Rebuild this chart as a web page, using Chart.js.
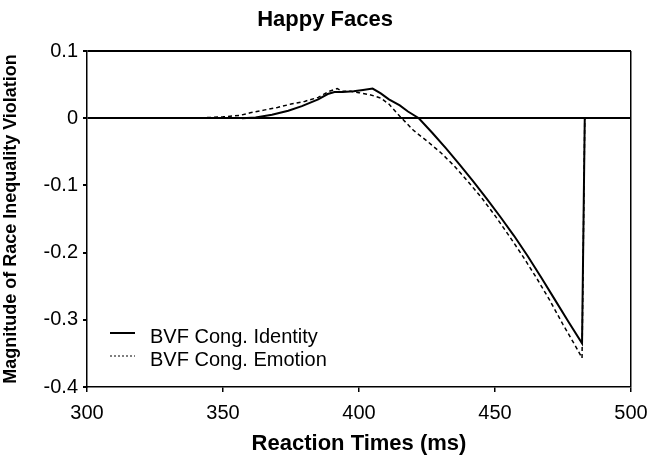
<!DOCTYPE html>
<html>
<head>
<meta charset="utf-8">
<title>Happy Faces</title>
<script src="https://cdn.jsdelivr.net/npm/chart.js@4.4.1/dist/chart.umd.min.js"></script>
<style>
  html, body { margin: 0; padding: 0; background: #fff; }
  #wrap { width: 650px; height: 458px; }
</style>
</head>
<body>
<div id="wrap"><canvas id="chart" width="650" height="458"></canvas></div>
<script>
// dados (tempo de reacao em ms / magnitude)
const identityRT  = [357, 362, 368, 374, 379, 385, 388.5, 391, 394, 398, 401.5, 405, 408, 411, 415, 418, 422, 427, 432, 437, 442, 447, 452, 457, 462, 467, 472, 477, 482, 483];
const identityVal = [0, 0.001, 0.005, 0.011, 0.018, 0.028, 0.036, 0.039, 0.039, 0.040, 0.042, 0.044, 0.037, 0.028, 0.019, 0.010, 0, -0.022, -0.045, -0.069, -0.094, -0.12, -0.147, -0.175, -0.205, -0.237, -0.27, -0.303, -0.335, 0];

const emotionRT  = [339, 345, 350, 356, 360, 365, 370, 375, 380, 385, 389, 392, 394, 397, 400, 404, 408, 411, 415, 420, 425, 430, 435, 440, 445, 450, 455, 460, 465, 470, 475, 480, 482, 483];
const emotionVal = [0, 0.001, 0.002, 0.004, 0.008, 0.012, 0.016, 0.021, 0.025, 0.031, 0.040, 0.044, 0.040, 0.040, 0.038, 0.035, 0.030, 0.021, 0.003, -0.018, -0.034, -0.051, -0.071, -0.094, -0.118, -0.145, -0.174, -0.204, -0.236, -0.27, -0.307, -0.342, -0.357, 0];

const seriesLabels = ['BVF Cong. Identity', 'BVF Cong. Emotion'];
const xTicks = [300, 350, 400, 450, 500];
const yTicks = [0.1, 0, -0.1, -0.2, -0.3, -0.4];

const toPoints = (xs, ys) => xs.map((x, i) => ({ x: x, y: ys[i] }));

Chart.defaults.font.family = '"Liberation Sans", Arial, sans-serif';
Chart.defaults.color = '#000';

// legenda desenhada dentro da area do grafico (canto inferior esquerdo)
const innerLegend = {
  id: 'innerLegend',
  afterDraw(chart) {
    const ctx = chart.ctx;
    const area = chart.chartArea;
    const rows = [area.bottom - 50, area.bottom - 27];
    ctx.save();
    ctx.font = '20px "Liberation Sans", Arial, sans-serif';
    ctx.fillStyle = '#000';
    ctx.textBaseline = 'middle';
    chart.data.datasets.forEach((ds, i) => {
      const y = rows[i];
      ctx.beginPath();
      ctx.strokeStyle = '#000';
      ctx.lineWidth = i === 0 ? 2 : 1;
      ctx.setLineDash(i === 0 ? [] : [2, 2]);
      ctx.moveTo(area.left + 23, y - 4);
      ctx.lineTo(area.left + 48, y - 4);
      ctx.stroke();
      ctx.setLineDash([]);
      ctx.fillText(ds.label, area.left + 63, y);
    });
    ctx.restore();
  }
};

const ctx = document.getElementById('chart').getContext('2d');
const chart = new Chart(ctx, {
  type: 'line',
  data: {
    datasets: [{
      label: seriesLabels[0],
      data: toPoints(identityRT, identityVal),
      borderColor: '#000',
      borderWidth: 2,
      pointRadius: 0,
      tension: 0
    }, {
      label: seriesLabels[1],
      data: toPoints(emotionRT, emotionVal),
      borderColor: '#000',
      borderWidth: 1.5,
      borderDash: [4, 3],
      pointRadius: 0,
      tension: 0
    }]
  },
  options: {
    responsive: false,
    animation: false,
    layout: { padding: 0 },
    scales: {
      x: {
        type: 'linear',
        min: 300,
        max: 500,
        afterBuildTicks: scale => { scale.ticks = xTicks.map(v => ({ value: v })); },
        afterFit: scale => {
          scale.height = 71;
          scale.paddingLeft = 0;
          scale.paddingRight = 19;
        },
        grid: {
          color: c => c.tick && c.tick.value === 500 ? '#000' : 'rgba(0,0,0,0)',
          lineWidth: 1.5,
          tickColor: '#000',
          tickLength: 5,
          drawOnChartArea: true
        },
        border: { color: '#000', width: 1.5 },
        ticks: {
          font: { size: 20 },
          padding: 9,
          maxRotation: 0,
          callback: v => String(v)
        },
        title: {
          display: true,
          text: 'Reaction Times (ms)',
          font: { size: 22, weight: 'bold' },
          padding: { top: 0, bottom: 1 }
        }
      },
      y: {
        min: -0.4,
        max: 0.1,
        afterBuildTicks: scale => { scale.ticks = yTicks.map(v => ({ value: v })); },
        afterFit: scale => {
          scale.width = 87;
          scale.paddingTop = 0;
          scale.paddingBottom = 0;
        },
        grid: {
          color: c => c.tick && (c.tick.value === 0 || c.tick.value === 0.1) ? '#000' : 'rgba(0,0,0,0)',
          lineWidth: 2,
          tickColor: '#000',
          tickLength: 4
        },
        border: { color: '#000', width: 1.5 },
        ticks: {
          font: { size: 20 },
          padding: 5,
          callback: v => String(+v.toFixed(1))
        },
        title: {
          display: true,
          text: 'Magnitude of Race Inequality Violation',
          font: { size: 18, weight: 'bold' },
          padding: { top: 0, bottom: 0 }
        }
      }
    },
    plugins: {
      legend: { display: false },
      tooltip: { enabled: false },
      title: {
        display: true,
        text: 'Happy Faces',
        font: { size: 22, weight: 'bold' },
        padding: { top: 7, bottom: 17.6 }
      }
    }
  },
  plugins: [innerLegend]
});
</script>
</body>
</html>
